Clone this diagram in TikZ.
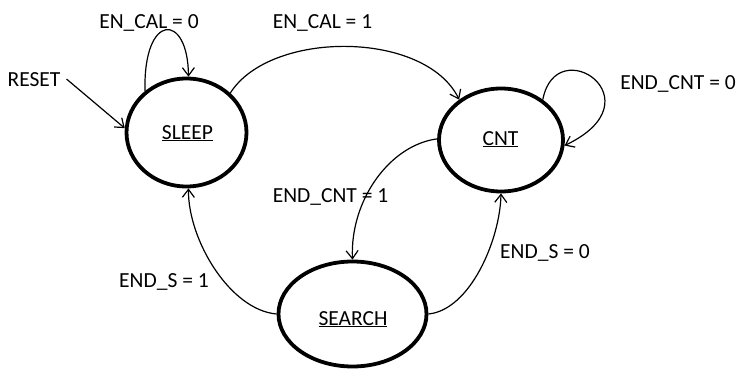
\documentclass[tikz,border=0pt]{standalone}
\usepackage{fontspec}
\setmainfont{Carlito}
\usetikzlibrary{arrows.meta,shapes.geometric}
\begin{document}
\begin{tikzpicture}[x=1pt,y=-1pt,
  state/.style={ellipse,draw,line width=3.8pt,inner sep=0pt},
  lbl/.style={inner sep=1pt,anchor=base,font=\fontsize{21.5}{25}\selectfont,text=black},
  edge/.style={line width=1.2pt,-{Straight Barb[length=8pt,width=12pt,line width=1.2pt]}}]
\useasboundingbox (0,0) rectangle (739,369);
% states
\node[state,minimum width=120pt,minimum height=108pt] (sleep) at (186.5,132.5) {};
\node[state,minimum width=124pt,minimum height=103pt] (cnt) at (501,140) {};
\node[state,minimum width=148pt,minimum height=105pt] (search) at (352.5,314) {};
\node[lbl] (tsleep) at (187.5,139) {\underline{SLEEP}};
\node[lbl] (tcnt) at (500.5,145) {\underline{CNT}};
\node[lbl] (tsearch) at (353,325) {\underline{SEARCH}};
% labels
\node[lbl] (reset) at (34,86) {RESET};
\node[lbl] (l1) at (149,29) {EN\_CAL = 0};
\node[lbl] (l2) at (322.5,29) {EN\_CAL = 1};
\node[lbl] (l3) at (678,89) {END\_CNT = 0};
\node[lbl] (l4) at (330.5,202) {END\_CNT = 1};
\node[lbl] (l5) at (164,287) {END\_S = 1};
\node[lbl] (l6) at (545,258) {END\_S = 0};
% transitions
\draw[edge] ([xshift=5pt]reset.east) -- (sleep.176);
\draw[edge] (sleep.135) .. controls (143,12) and (188,12) .. (sleep.88);
\draw[edge] (sleep.42) .. controls (270,30) and (425,30) .. (cnt.136);
\draw[edge] (cnt.44) .. controls (556,30) and (660,100) .. (cnt.-5);
\draw[edge] (cnt.179) .. controls (390,145) and (350,200) .. (search.90);
\draw[edge] (search.180) .. controls (230,310) and (188,240) .. (sleep.-88);
\draw[edge] (search.0) .. controls (470,310) and (500,240) .. (cnt.270);
\end{tikzpicture}
\end{document}
